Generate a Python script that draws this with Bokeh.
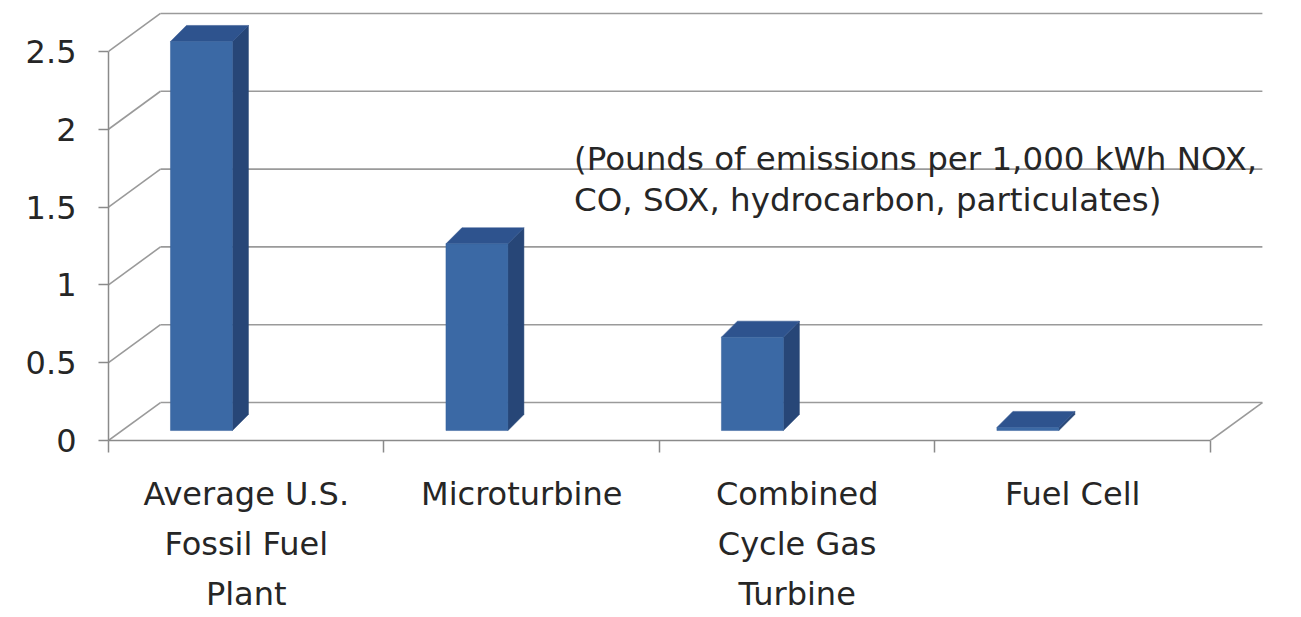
from bokeh.plotting import figure
from bokeh.models import FixedTicker, Label, Range1d
from bokeh.embed import file_html
from bokeh.resources import INLINE

# ---- data ----
categories = ["Average U.S.\nFossil Fuel\nPlant", "Microturbine",
              "Combined\nCycle Gas\nTurbine", "Fuel Cell"]
values = [2.5, 1.2, 0.6, 0.02]
y_ticks = [0, 0.5, 1, 1.5, 2, 2.5]
note_lines = ["(Pounds of emissions per 1,000 kWh NOX,",
              "CO, SOX, hydrocarbon, particulates)"]

# ---- layout / style constants (data units) ----
WALL_DX, WALL_DY = 0.1887, 0.244      # depth of the back wall
BAR_L, BAR_R = -0.275, -0.05          # front face relative to category centre
BAR_BASE = 0.064                      # floor level at the bar's front plane
BAR_DX, BAR_DY = 0.058, 0.103         # bar depth
FONT = "DejaVu Sans"
GRID_C = "#9a9a9a"
FRONT_C, SIDE_C, TOP_C = "#3b69a5", "#274677", "#2e538e"

n = len(categories)
p = figure(width=1300, height=616, output_backend="svg", toolbar_location=None,
           x_range=Range1d(0, n + 0.2), y_range=Range1d(0, 2.763),
           min_border_left=108, min_border_top=10, min_border_right=35,
           min_border_bottom=176)
p.outline_line_color = None
p.xgrid.visible = False
p.ygrid.visible = False
p.background_fill_color = "white"

# back wall grid lines and side-wall diagonals
xs0 = [WALL_DX] * len(y_ticks)
xs1 = [n + WALL_DX] * len(y_ticks)
yb = [t + WALL_DY for t in y_ticks]
p.segment(xs0, yb, xs1, yb, line_color=GRID_C, line_width=1.6)
p.segment([0] * len(y_ticks), y_ticks, xs0, yb, line_color=GRID_C, line_width=1.6)
# floor right edge
p.segment([n], [0], [n + WALL_DX], [WALL_DY], line_color=GRID_C, line_width=1.6)

# bars
lefts = [i + 0.5 + BAR_L for i in range(n)]
rights = [i + 0.5 + BAR_R for i in range(n)]
bottoms = [BAR_BASE] * n
tops = [v + BAR_BASE for v in values]

side_xs = [[r, r + BAR_DX, r + BAR_DX, r] for r in rights]
side_ys = [[b, b + BAR_DY, t + BAR_DY, t] for b, t in zip(bottoms, tops)]
top_xs = [[l, r, r + BAR_DX, l + BAR_DX] for l, r in zip(lefts, rights)]
top_ys = [[t, t, t + BAR_DY, t + BAR_DY] for t in tops]

p.patches(side_xs, side_ys, fill_color=SIDE_C, line_color=SIDE_C, line_width=0.5)
p.patches(top_xs, top_ys, fill_color=TOP_C, line_color=TOP_C, line_width=0.5)
p.quad(left=lefts, right=rights, bottom=bottoms, top=tops,
       fill_color=FRONT_C, line_color="#34609a", line_width=0.5)

# axes
ya = p.yaxis[0]
ya.ticker = FixedTicker(ticks=y_ticks, minor_ticks=[])
ya.major_label_overrides = {(int(t) if float(t).is_integer() else t): f"{t:g}" for t in y_ticks}
ya.bounds = (0, max(y_ticks))
ya.axis_line_color = "#8a8a8a"
ya.axis_line_width = 1.5
ya.major_tick_line_color = "#8a8a8a"
ya.major_tick_line_width = 1.5
ya.major_tick_out = 10
ya.major_tick_in = 0
ya.major_label_standoff = 22
ya.major_label_text_font = FONT
ya.major_label_text_font_size = "32px"
ya.major_label_text_color = "#262626"

xa = p.xaxis[0]
centers = [i + 0.5 for i in range(n)]
xa.ticker = FixedTicker(ticks=centers, minor_ticks=list(range(n + 1)))
xa.major_label_overrides = {c: lab for c, lab in zip(centers, categories)}
xa.bounds = (0, n)
xa.axis_line_color = "#8a8a8a"
xa.axis_line_width = 1.5
xa.major_tick_out = 0
xa.major_tick_in = 0
xa.minor_tick_out = 12
xa.minor_tick_in = 0
xa.minor_tick_line_color = "#8a8a8a"
xa.minor_tick_line_width = 1.5
xa.major_label_standoff = 22
xa.major_label_text_font = FONT
xa.major_label_text_font_size = "32px"
xa.major_label_text_line_height = 1.32
xa.major_label_text_color = "#262626"
xa.major_label_orientation = "horizontal"

# note
for k, line in enumerate(note_lines):
    p.add_layout(Label(x=1.69, y=1.812 - 0.264 * k, text=line, text_font=FONT,
                       text_font_size="32.5px", text_color="#262626",
                       text_baseline="middle", text_align="left"))

open("out.html", "w").write(file_html(p, INLINE))
